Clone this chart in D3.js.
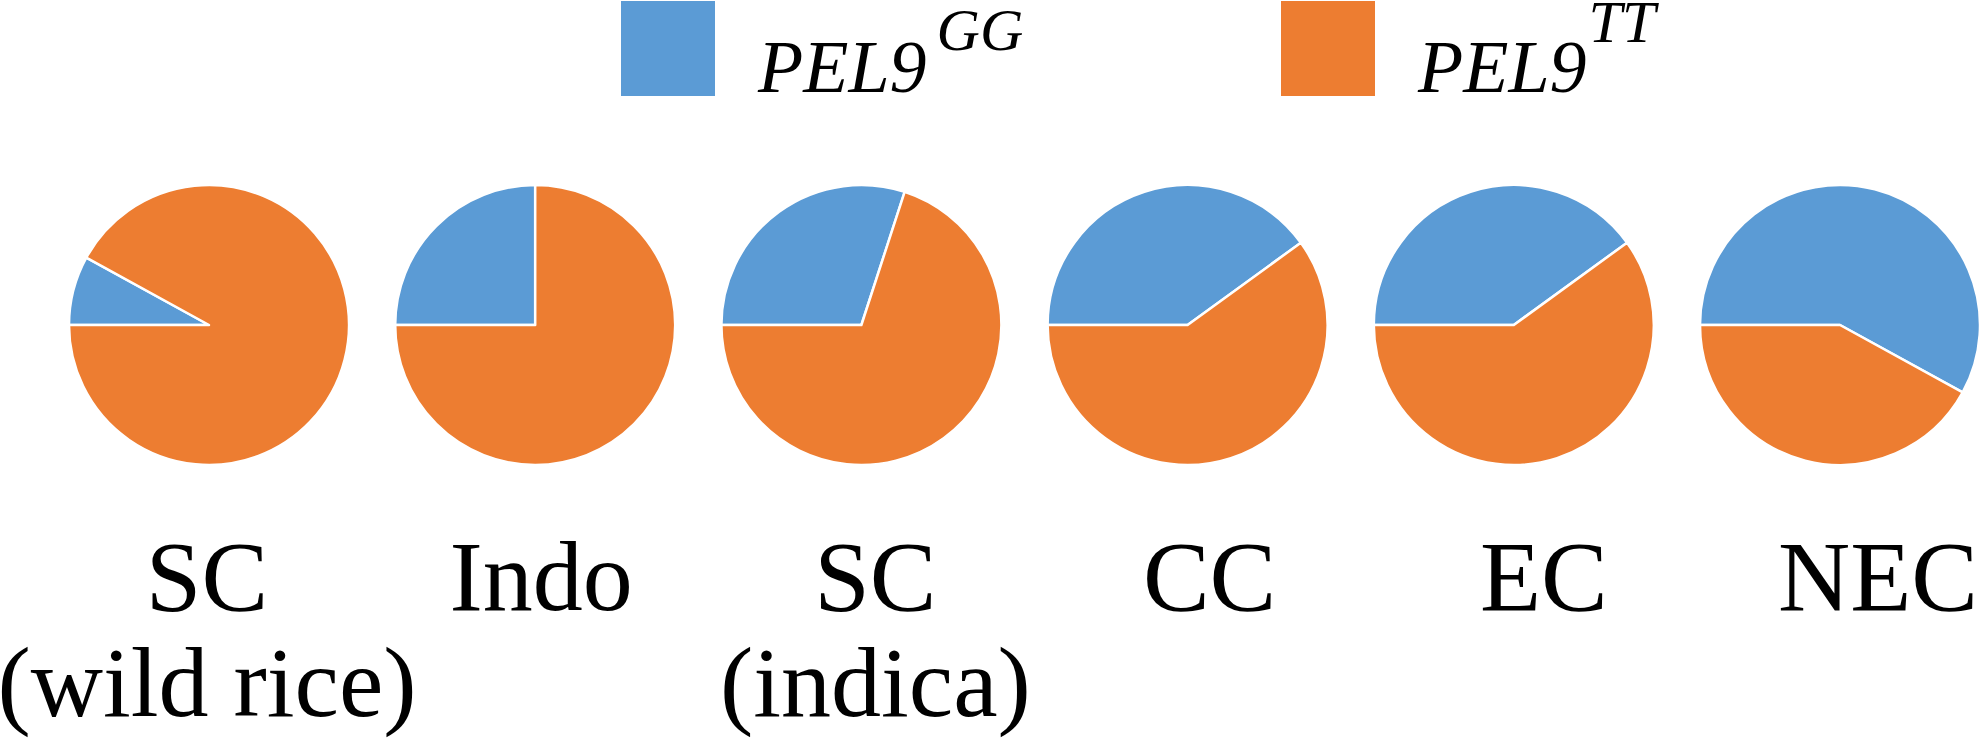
<!DOCTYPE html>
<html>
<head>
<meta charset="utf-8">
<script src="https://cdn.jsdelivr.net/npm/d3@7"></script>
<style>
  body { margin: 0; background: #fff; }
</style>
</head>
<body>
<svg id="chart"></svg>
<script>
// populations (two-line labels)
const groups = ["SC (wild rice)", "Indo", "SC (indica)", "CC", "EC", "NEC"];
const labelLines = [["SC", "(wild rice)"], ["Indo"], ["SC", "(indica)"], ["CC"], ["EC"], ["NEC"]];

// allele share in each population (%)
const series = ["GG", "TT"];
const valuesGG = [8, 25, 30, 40, 40, 58];
const valuesTT = [92, 75, 70, 60, 60, 42];
const colors = ["#5B9BD5", "#ED7D31"];

const width = 1985;
const height = 741;
const radius = 140;
const pieY = 325;
const font = "'Liberation Serif', 'Times New Roman', Times, serif";

const svg = d3.select("#chart")
    .attr("width", width)
    .attr("height", height);

// centres of the pies and of the labels under them
const x = d3.scalePoint()
    .domain(groups)
    .range([209, 1840]);

const xLabel = d3.scalePoint()
    .domain(groups)
    .range([207, 1878]);

const color = d3.scaleOrdinal()
    .domain(series)
    .range(colors);

// first slice starts at 9 o'clock, going clockwise
const pie = d3.pie()
    .sort(null)
    .startAngle(-Math.PI / 2)
    .endAngle(3 * Math.PI / 2)
    .value(d => d.value);

const arc = d3.arc()
    .innerRadius(0)
    .outerRadius(radius);

const pieData = groups.map((g, i) => ({
    group: g,
    slices: [
        { key: "GG", value: valuesGG[i] },
        { key: "TT", value: valuesTT[i] }
    ]
}));

const pies = svg.selectAll(".pie")
    .data(pieData)
    .enter()
    .append("g")
    .attr("class", "pie")
    .attr("transform", d => `translate(${x(d.group)}, ${pieY})`);

pies.selectAll("path")
    .data(d => pie(d.slices))
    .enter()
    .append("path")
    .attr("d", arc)
    .attr("fill", d => color(d.data.key))
    .attr("stroke", "#fff")
    .attr("stroke-width", 2.5)
    .attr("stroke-linejoin", "round");

// labels under the pies
const labels = svg.selectAll(".label")
    .data(groups)
    .enter()
    .append("text")
    .attr("class", "label")
    .attr("text-anchor", "middle")
    .attr("font-family", font)
    .attr("font-size", 100);

labels.selectAll("tspan")
    .data((d, i) => labelLines[i].map(t => ({ t: t, g: d })))
    .enter()
    .append("tspan")
    .attr("x", d => xLabel(d.g))
    .attr("y", (d, j) => 610 + j * 106)
    .text(d => d.t);

// legend
const legendX = [621, 1281];
const supDx = [10, 2];
const supDy = [-42, -50];

const legend = svg.selectAll(".legend")
    .data(series)
    .enter()
    .append("g")
    .attr("class", "legend")
    .attr("transform", (d, i) => `translate(${legendX[i]}, 0)`);

legend.append("rect")
    .attr("x", 0)
    .attr("y", 1)
    .attr("width", 94)
    .attr("height", 95)
    .attr("fill", d => color(d));

const lt = legend.append("text")
    .attr("x", 137)
    .attr("y", 92)
    .attr("font-family", font)
    .attr("font-style", "italic")
    .attr("font-size", 74);

lt.append("tspan").text("PEL9");
lt.append("tspan")
    .attr("dx", (d, i) => supDx[i])
    .attr("dy", (d, i) => supDy[i])
    .attr("font-size", 60)
    .text(d => d);
</script>
</body>
</html>
